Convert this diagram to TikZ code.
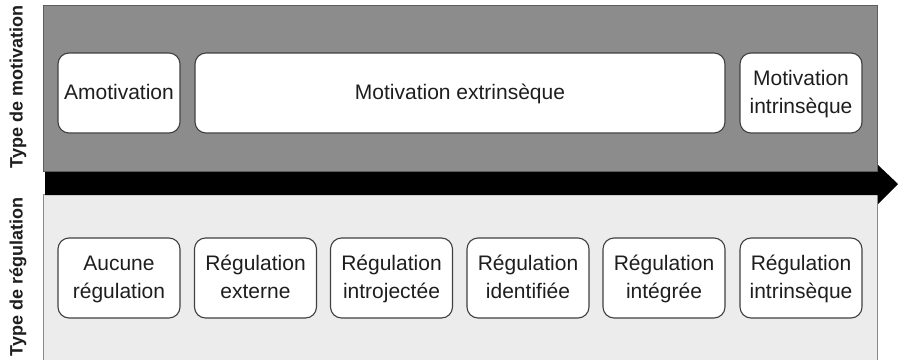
\documentclass[tikz,border=0pt]{standalone}
\usepackage{fontspec}
\setmainfont{Liberation Sans}
\definecolor{motfill}{HTML}{8C8C8C}
\definecolor{motline}{HTML}{5E5E5E}
\definecolor{regfill}{HTML}{ECECEC}
\definecolor{regline}{HTML}{8A8A8A}
\definecolor{boxline}{HTML}{404040}
\definecolor{ink}{HTML}{1E1E1E}
% equal height and depth for every text line
\newcommand{\linestrut}{\vphantom{Éqg}}
\begin{document}
\begin{tikzpicture}[x=1pt,y=-1pt,
  panel/.style={line width=1.2pt, inner sep=0pt, anchor=north west, minimum width=834pt},
  box/.style={draw=boxline, line width=1.1pt, fill=white, rounded corners=11pt,
    minimum width=122pt, minimum height=80pt, inner sep=0pt, align=center,
    text=ink, font=\fontsize{21}{28}\selectfont},
  side/.style={rotate=90, text=ink, font=\bfseries\fontsize{18}{20}\selectfont}]
\useasboundingbox (0,0) rectangle (899,359);

% background panels
\node[panel, fill=motfill, draw=motline, minimum height=166pt] (motpanel) at (43,5) {};
\node[panel, fill=regfill, draw=regline, minimum height=170pt] (regpanel) at (43,194) {};

% progression arrow
\fill[black] (45,172) -- (878,172) -- (878,165) -- (898,184) -- (878,204)
  -- (878,195) -- (45,195) -- cycle;

% side titles
\node[side] (motlabel) at (18,87) {Type de motivation};
\node[side] (reglabel) at (18,277) {Type de régulation};

% motivation types
\node[box] (amot) at (119,93) {\linestrut Amotivation};
\node[box, minimum width=530pt] (extr) at (460,93) {\linestrut Motivation extrinsèque};
\node[box] (intr) at (801,93) {\linestrut Motivation\\\linestrut intrinsèque};

% regulation types
\node[box] (r1) at (119,278) {\linestrut Aucune\\\linestrut régulation};
\node[box] (r2) at (255.5,278) {\linestrut Régulation\\\linestrut externe};
\node[box] (r3) at (391.5,278) {\linestrut Régulation\\\linestrut introjectée};
\node[box] (r4) at (528,278) {\linestrut Régulation\\\linestrut identifiée};
\node[box] (r5) at (664,278) {\linestrut Régulation\\\linestrut intégrée};
\node[box] (r6) at (801,278) {\linestrut Régulation\\\linestrut intrinsèque};
\end{tikzpicture}
\end{document}
